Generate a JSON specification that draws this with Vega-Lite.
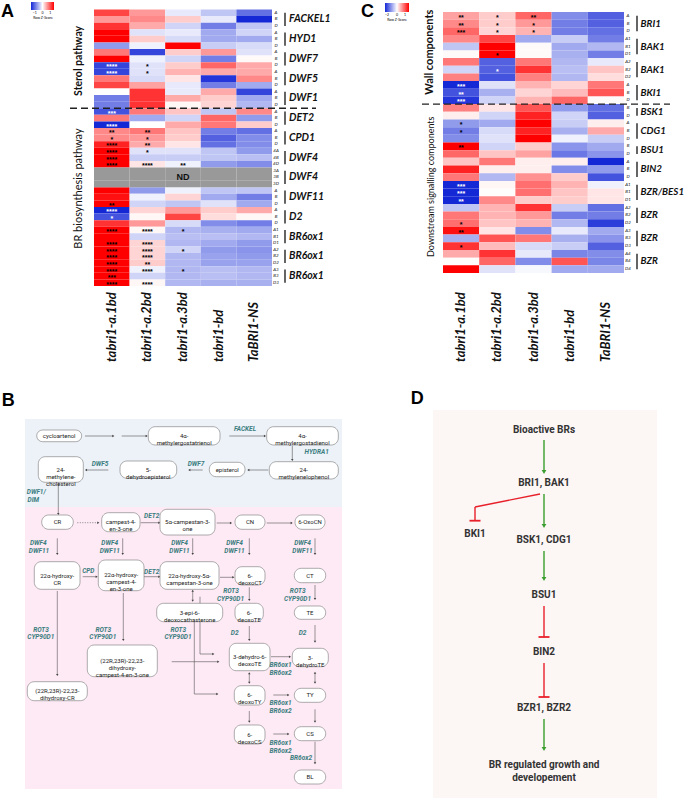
{
"$schema": "https://vega.github.io/schema/vega-lite/v6.json",
"width": 685, "height": 800, "padding": 0, "autosize": {"type": "none"},
"background": "white",
"config": {"view": {"stroke": null}, "axis": {"disable": true}, "text": {"font": "Lato"}},
"datasets": {
"samples": [{"sample":"tabri1-a.1bd"},{"sample":"tabri1-a.2bd"},{"sample":"tabri1-a.3bd"},{"sample":"tabri1-bd"},{"sample":"TaBRI1-NS"}],
"cellsA": [
{"row":1,"sample":"tabri1-a.1bd","z":1.1},{"row":1,"sample":"tabri1-a.2bd","z":0.6},{"row":1,"sample":"tabri1-a.3bd","z":-0.15},{"row":1,"sample":"tabri1-bd","z":-0.4},{"row":1,"sample":"TaBRI1-NS","z":-1.0},
{"row":2,"sample":"tabri1-a.1bd","z":0.6},{"row":2,"sample":"tabri1-a.2bd","z":0.7},{"row":2,"sample":"tabri1-a.3bd","z":0.3},{"row":2,"sample":"tabri1-bd","z":-0.15},{"row":2,"sample":"TaBRI1-NS","z":-1.5},
{"row":3,"sample":"tabri1-a.1bd","z":1.2},{"row":3,"sample":"tabri1-a.2bd","z":0.5},{"row":3,"sample":"tabri1-a.3bd","z":-0.3},{"row":3,"sample":"tabri1-bd","z":-0.9},{"row":3,"sample":"TaBRI1-NS","z":-0.4},
{"row":4,"sample":"tabri1-a.1bd","z":1.5},{"row":4,"sample":"tabri1-a.2bd","z":-0.2},{"row":4,"sample":"tabri1-a.3bd","z":-0.15},{"row":4,"sample":"tabri1-bd","z":-0.6},{"row":4,"sample":"TaBRI1-NS","z":-0.3},
{"row":5,"sample":"tabri1-a.1bd","z":1.5},{"row":5,"sample":"tabri1-a.2bd","z":0.3},{"row":5,"sample":"tabri1-a.3bd","z":-0.25},{"row":5,"sample":"tabri1-bd","z":-0.6},{"row":5,"sample":"TaBRI1-NS","z":-0.6},
{"row":6,"sample":"tabri1-a.1bd","z":-0.7},{"row":6,"sample":"tabri1-a.2bd","z":-0.1},{"row":6,"sample":"tabri1-a.3bd","z":1.5},{"row":6,"sample":"tabri1-bd","z":-0.35},{"row":6,"sample":"TaBRI1-NS","z":-0.25},
{"row":7,"sample":"tabri1-a.1bd","z":0.8},{"row":7,"sample":"tabri1-a.2bd","z":-1.3},{"row":7,"sample":"tabri1-a.3bd","z":0.3},{"row":7,"sample":"tabri1-bd","z":0.6},{"row":7,"sample":"TaBRI1-NS","z":-0.2},
{"row":8,"sample":"tabri1-a.1bd","z":1.5},{"row":8,"sample":"tabri1-a.2bd","z":-0.1},{"row":8,"sample":"tabri1-a.3bd","z":-0.3},{"row":8,"sample":"tabri1-bd","z":-0.9},{"row":8,"sample":"TaBRI1-NS","z":0.03},
{"row":9,"sample":"tabri1-a.1bd","z":-1.3,"sig":"****"},{"row":9,"sample":"tabri1-a.2bd","z":-0.2,"sig":"*"},{"row":9,"sample":"tabri1-a.3bd","z":0.3},{"row":9,"sample":"tabri1-bd","z":0.9},{"row":9,"sample":"TaBRI1-NS","z":0.5},
{"row":10,"sample":"tabri1-a.1bd","z":-1.3,"sig":"****"},{"row":10,"sample":"tabri1-a.2bd","z":-0.2,"sig":"*"},{"row":10,"sample":"tabri1-a.3bd","z":0.45},{"row":10,"sample":"tabri1-bd","z":0.5},{"row":10,"sample":"TaBRI1-NS","z":0.5},
{"row":11,"sample":"tabri1-a.1bd","z":0.8},{"row":11,"sample":"tabri1-a.2bd","z":-0.25},{"row":11,"sample":"tabri1-a.3bd","z":0.15},{"row":11,"sample":"tabri1-bd","z":-1.4},{"row":11,"sample":"TaBRI1-NS","z":0.7},
{"row":12,"sample":"tabri1-a.1bd","z":1.1},{"row":12,"sample":"tabri1-a.2bd","z":0.55},{"row":12,"sample":"tabri1-a.3bd","z":-0.15},{"row":12,"sample":"tabri1-bd","z":-0.9},{"row":12,"sample":"TaBRI1-NS","z":-0.6},
{"row":13,"sample":"tabri1-a.1bd","z":0},{"row":13,"sample":"tabri1-a.2bd","z":1.2},{"row":13,"sample":"tabri1-a.3bd","z":-0.15},{"row":13,"sample":"tabri1-bd","z":0.5},{"row":13,"sample":"TaBRI1-NS","z":-1.3},
{"row":14,"sample":"tabri1-a.1bd","z":-0.9},{"row":14,"sample":"tabri1-a.2bd","z":1.2},{"row":14,"sample":"tabri1-a.3bd","z":0.5},{"row":14,"sample":"tabri1-bd","z":0.3},{"row":14,"sample":"TaBRI1-NS","z":-0.6},
{"row":15,"sample":"tabri1-a.1bd","z":-0.9},{"row":15,"sample":"tabri1-a.2bd","z":1.2},{"row":15,"sample":"tabri1-a.3bd","z":0.05},{"row":15,"sample":"tabri1-bd","z":0.25},{"row":15,"sample":"TaBRI1-NS","z":-0.5},
{"row":16,"sample":"tabri1-a.1bd","z":-1.2,"sig":"***"},{"row":16,"sample":"tabri1-a.2bd","z":0.8},{"row":16,"sample":"tabri1-a.3bd","z":0.35},{"row":16,"sample":"tabri1-bd","z":-0.4},{"row":16,"sample":"TaBRI1-NS","z":0.7},
{"row":17,"sample":"tabri1-a.1bd","z":0.8},{"row":17,"sample":"tabri1-a.2bd","z":-0.6},{"row":17,"sample":"tabri1-a.3bd","z":-0.3},{"row":17,"sample":"tabri1-bd","z":0.9},{"row":17,"sample":"TaBRI1-NS","z":-0.7},
{"row":18,"sample":"tabri1-a.1bd","z":-1.5,"sig":"****"},{"row":18,"sample":"tabri1-a.2bd","z":0},{"row":18,"sample":"tabri1-a.3bd","z":0.5},{"row":18,"sample":"tabri1-bd","z":0.8},{"row":18,"sample":"TaBRI1-NS","z":0.3},
{"row":19,"sample":"tabri1-a.1bd","z":0.7,"sig":"**"},{"row":19,"sample":"tabri1-a.2bd","z":0.8,"sig":"**"},{"row":19,"sample":"tabri1-a.3bd","z":0.35},{"row":19,"sample":"tabri1-bd","z":-0.9},{"row":19,"sample":"TaBRI1-NS","z":-1.0},
{"row":20,"sample":"tabri1-a.1bd","z":0.7,"sig":"*"},{"row":20,"sample":"tabri1-a.2bd","z":0.6,"sig":"*"},{"row":20,"sample":"tabri1-a.3bd","z":0.3},{"row":20,"sample":"tabri1-bd","z":-1.1},{"row":20,"sample":"TaBRI1-NS","z":-0.8},
{"row":21,"sample":"tabri1-a.1bd","z":1.3,"sig":"****"},{"row":21,"sample":"tabri1-a.2bd","z":0.5,"sig":"**"},{"row":21,"sample":"tabri1-a.3bd","z":0.15},{"row":21,"sample":"tabri1-bd","z":-1.0},{"row":21,"sample":"TaBRI1-NS","z":-0.8},
{"row":22,"sample":"tabri1-a.1bd","z":1.5,"sig":"****"},{"row":22,"sample":"tabri1-a.2bd","z":-0.2,"sig":"*"},{"row":22,"sample":"tabri1-a.3bd","z":-0.2},{"row":22,"sample":"tabri1-bd","z":-0.4},{"row":22,"sample":"TaBRI1-NS","z":-0.7},
{"row":23,"sample":"tabri1-a.1bd","z":1.5,"sig":"****"},{"row":23,"sample":"tabri1-a.2bd","z":-0.35},{"row":23,"sample":"tabri1-a.3bd","z":-0.35},{"row":23,"sample":"tabri1-bd","z":-0.4},{"row":23,"sample":"TaBRI1-NS","z":-0.45},
{"row":24,"sample":"tabri1-a.1bd","z":1.5,"sig":"****"},{"row":24,"sample":"tabri1-a.2bd","z":0.15,"sig":"****"},{"row":24,"sample":"tabri1-a.3bd","z":-0.1,"sig":"**"},{"row":24,"sample":"tabri1-bd","z":-0.7},{"row":24,"sample":"TaBRI1-NS","z":-0.8},
{"row":25,"sample":"tabri1-a.1bd","z":null},{"row":25,"sample":"tabri1-a.2bd","z":null},{"row":25,"sample":"tabri1-a.3bd","z":null},{"row":25,"sample":"tabri1-bd","z":null},{"row":25,"sample":"TaBRI1-NS","z":null},
{"row":26,"sample":"tabri1-a.1bd","z":null},{"row":26,"sample":"tabri1-a.2bd","z":null},{"row":26,"sample":"tabri1-a.3bd","z":null},{"row":26,"sample":"tabri1-bd","z":null},{"row":26,"sample":"TaBRI1-NS","z":null},
{"row":27,"sample":"tabri1-a.1bd","z":null},{"row":27,"sample":"tabri1-a.2bd","z":null},{"row":27,"sample":"tabri1-a.3bd","z":null},{"row":27,"sample":"tabri1-bd","z":null},{"row":27,"sample":"TaBRI1-NS","z":null},
{"row":28,"sample":"tabri1-a.1bd","z":1.5},{"row":28,"sample":"tabri1-a.2bd","z":-0.7},{"row":28,"sample":"tabri1-a.3bd","z":-0.1},{"row":28,"sample":"tabri1-bd","z":-0.4},{"row":28,"sample":"TaBRI1-NS","z":-0.4},
{"row":29,"sample":"tabri1-a.1bd","z":1.4},{"row":29,"sample":"tabri1-a.2bd","z":-0.1},{"row":29,"sample":"tabri1-a.3bd","z":0.25},{"row":29,"sample":"tabri1-bd","z":-0.6},{"row":29,"sample":"TaBRI1-NS","z":-0.9},
{"row":30,"sample":"tabri1-a.1bd","z":1.5,"sig":"**"},{"row":30,"sample":"tabri1-a.2bd","z":-0.3},{"row":30,"sample":"tabri1-a.3bd","z":-0.4},{"row":30,"sample":"tabri1-bd","z":-0.2},{"row":30,"sample":"TaBRI1-NS","z":-0.6},
{"row":31,"sample":"tabri1-a.1bd","z":-1.5,"sig":"****"},{"row":31,"sample":"tabri1-a.2bd","z":0.25},{"row":31,"sample":"tabri1-a.3bd","z":0.6},{"row":31,"sample":"tabri1-bd","z":0.3},{"row":31,"sample":"TaBRI1-NS","z":0.5},
{"row":32,"sample":"tabri1-a.1bd","z":-1.2,"sig":"*"},{"row":32,"sample":"tabri1-a.2bd","z":0.05},{"row":32,"sample":"tabri1-a.3bd","z":1.1},{"row":32,"sample":"tabri1-bd","z":0.2},{"row":32,"sample":"TaBRI1-NS","z":0.05},
{"row":33,"sample":"tabri1-a.1bd","z":1.2},{"row":33,"sample":"tabri1-a.2bd","z":0.6},{"row":33,"sample":"tabri1-a.3bd","z":-0.25},{"row":33,"sample":"tabri1-bd","z":-0.8},{"row":33,"sample":"TaBRI1-NS","z":-0.9},
{"row":34,"sample":"tabri1-a.1bd","z":1.5,"sig":"****"},{"row":34,"sample":"tabri1-a.2bd","z":0.05,"sig":"****"},{"row":34,"sample":"tabri1-a.3bd","z":-0.5,"sig":"*"},{"row":34,"sample":"tabri1-bd","z":-0.55},{"row":34,"sample":"TaBRI1-NS","z":-0.6},
{"row":35,"sample":"tabri1-a.1bd","z":1.5},{"row":35,"sample":"tabri1-a.2bd","z":-0.3},{"row":35,"sample":"tabri1-a.3bd","z":-0.45},{"row":35,"sample":"tabri1-bd","z":-0.45},{"row":35,"sample":"TaBRI1-NS","z":-0.5},
{"row":36,"sample":"tabri1-a.1bd","z":1.5,"sig":"****"},{"row":36,"sample":"tabri1-a.2bd","z":0.25,"sig":"****"},{"row":36,"sample":"tabri1-a.3bd","z":-0.5},{"row":36,"sample":"tabri1-bd","z":-0.6},{"row":36,"sample":"TaBRI1-NS","z":-0.7},
{"row":37,"sample":"tabri1-a.1bd","z":1.5,"sig":"****"},{"row":37,"sample":"tabri1-a.2bd","z":0.25,"sig":"****"},{"row":37,"sample":"tabri1-a.3bd","z":-0.3,"sig":"*"},{"row":37,"sample":"tabri1-bd","z":-0.7},{"row":37,"sample":"TaBRI1-NS","z":-0.75},
{"row":38,"sample":"tabri1-a.1bd","z":1.5,"sig":"****"},{"row":38,"sample":"tabri1-a.2bd","z":0.25,"sig":"****"},{"row":38,"sample":"tabri1-a.3bd","z":-0.5},{"row":38,"sample":"tabri1-bd","z":-0.65},{"row":38,"sample":"TaBRI1-NS","z":-0.7},
{"row":39,"sample":"tabri1-a.1bd","z":1.5,"sig":"****"},{"row":39,"sample":"tabri1-a.2bd","z":0.3,"sig":"**"},{"row":39,"sample":"tabri1-a.3bd","z":-0.5},{"row":39,"sample":"tabri1-bd","z":-0.65},{"row":39,"sample":"TaBRI1-NS","z":-0.65},
{"row":40,"sample":"tabri1-a.1bd","z":1.5,"sig":"****"},{"row":40,"sample":"tabri1-a.2bd","z":-0.1,"sig":"****"},{"row":40,"sample":"tabri1-a.3bd","z":-0.5,"sig":"*"},{"row":40,"sample":"tabri1-bd","z":-0.45},{"row":40,"sample":"TaBRI1-NS","z":-0.5},
{"row":41,"sample":"tabri1-a.1bd","z":1.5,"sig":"***"},{"row":41,"sample":"tabri1-a.2bd","z":-0.3},{"row":41,"sample":"tabri1-a.3bd","z":-0.5},{"row":41,"sample":"tabri1-bd","z":-0.45},{"row":41,"sample":"TaBRI1-NS","z":-0.5},
{"row":42,"sample":"tabri1-a.1bd","z":1.5,"sig":"****"},{"row":42,"sample":"tabri1-a.2bd","z":0.05,"sig":"****"},{"row":42,"sample":"tabri1-a.3bd","z":-0.5},{"row":42,"sample":"tabri1-bd","z":-0.55},{"row":42,"sample":"TaBRI1-NS","z":-0.55}
],
"rowsA": [
{"row":1,"allele":"A"},{"row":2,"allele":"B"},{"row":3,"allele":"D"},{"row":4,"allele":"A"},{"row":5,"allele":"B"},{"row":6,"allele":"D"},
{"row":7,"allele":"A"},{"row":8,"allele":"B"},{"row":9,"allele":"D"},{"row":10,"allele":"A"},{"row":11,"allele":"B"},{"row":12,"allele":"D"},
{"row":13,"allele":"A"},{"row":14,"allele":"B"},{"row":15,"allele":"D"},{"row":16,"allele":"A"},{"row":17,"allele":"B"},{"row":18,"allele":"D"},
{"row":19,"allele":"A"},{"row":20,"allele":"B"},{"row":21,"allele":"D"},{"row":22,"allele":"4A"},{"row":23,"allele":"4B"},{"row":24,"allele":"4D"},
{"row":25,"allele":"3A"},{"row":26,"allele":"3B"},{"row":27,"allele":"3D"},{"row":28,"allele":"A"},{"row":29,"allele":"B"},{"row":30,"allele":"D"},
{"row":31,"allele":"A"},{"row":32,"allele":"B"},{"row":33,"allele":"D"},{"row":34,"allele":"A1"},{"row":35,"allele":"B1"},{"row":36,"allele":"D1"},
{"row":37,"allele":"A2"},{"row":38,"allele":"B2"},{"row":39,"allele":"D2"},{"row":40,"allele":"A3"},{"row":41,"allele":"B3"},{"row":42,"allele":"D3"}
],
"groupsA": [
{"gene":"FACKEL1","first":1,"last":3,"mid":2},{"gene":"HYD1","first":4,"last":6,"mid":5},{"gene":"DWF7","first":7,"last":9,"mid":8},
{"gene":"DWF5","first":10,"last":12,"mid":11},{"gene":"DWF1","first":13,"last":15,"mid":14},{"gene":"DET2","first":16,"last":18,"mid":17},
{"gene":"CPD1","first":19,"last":21,"mid":20},{"gene":"DWF4","first":22,"last":24,"mid":23},{"gene":"DWF4","first":25,"last":27,"mid":26},
{"gene":"DWF11","first":28,"last":30,"mid":29},{"gene":"D2","first":31,"last":33,"mid":32},{"gene":"BR6ox1","first":34,"last":36,"mid":35},
{"gene":"BR6ox1","first":37,"last":39,"mid":38},{"gene":"BR6ox1","first":40,"last":42,"mid":41}
],
"cellsC": [
{"row":1,"sample":"tabri1-a.1bd","z":0.55,"sig":"**"},{"row":1,"sample":"tabri1-a.2bd","z":0.3,"sig":"*"},{"row":1,"sample":"tabri1-a.3bd","z":0.9,"sig":"**"},{"row":1,"sample":"tabri1-bd","z":-0.8},{"row":1,"sample":"TaBRI1-NS","z":-1.1},
{"row":2,"sample":"tabri1-a.1bd","z":0.7,"sig":"**"},{"row":2,"sample":"tabri1-a.2bd","z":0.3,"sig":"*"},{"row":2,"sample":"tabri1-a.3bd","z":0.6,"sig":"*"},{"row":2,"sample":"tabri1-bd","z":-0.9},{"row":2,"sample":"TaBRI1-NS","z":-1.1},
{"row":3,"sample":"tabri1-a.1bd","z":0.9,"sig":"***"},{"row":3,"sample":"tabri1-a.2bd","z":0.25,"sig":"*"},{"row":3,"sample":"tabri1-a.3bd","z":0.45,"sig":"*"},{"row":3,"sample":"tabri1-bd","z":-0.9},{"row":3,"sample":"TaBRI1-NS","z":-1.0},
{"row":4,"sample":"tabri1-a.1bd","z":0.7},{"row":4,"sample":"tabri1-a.2bd","z":1.1},{"row":4,"sample":"tabri1-a.3bd","z":-0.6},{"row":4,"sample":"tabri1-bd","z":-0.35},{"row":4,"sample":"TaBRI1-NS","z":-0.9},
{"row":5,"sample":"tabri1-a.1bd","z":-0.4},{"row":5,"sample":"tabri1-a.2bd","z":1.5},{"row":5,"sample":"tabri1-a.3bd","z":0.03},{"row":5,"sample":"tabri1-bd","z":-0.6},{"row":5,"sample":"TaBRI1-NS","z":-0.5},
{"row":6,"sample":"tabri1-a.1bd","z":0.03},{"row":6,"sample":"tabri1-a.2bd","z":1.5,"sig":"*"},{"row":6,"sample":"tabri1-a.3bd","z":0.03},{"row":6,"sample":"tabri1-bd","z":-0.55},{"row":6,"sample":"TaBRI1-NS","z":-0.9},
{"row":7,"sample":"tabri1-a.1bd","z":0.8},{"row":7,"sample":"tabri1-a.2bd","z":-1.1},{"row":7,"sample":"tabri1-a.3bd","z":0.8},{"row":7,"sample":"tabri1-bd","z":-0.5},{"row":7,"sample":"TaBRI1-NS","z":-0.15},
{"row":8,"sample":"tabri1-a.1bd","z":-0.3},{"row":8,"sample":"tabri1-a.2bd","z":-1.1,"sig":"*"},{"row":8,"sample":"tabri1-a.3bd","z":1.2},{"row":8,"sample":"tabri1-bd","z":-0.45},{"row":8,"sample":"TaBRI1-NS","z":0.35},
{"row":9,"sample":"tabri1-a.1bd","z":0.75},{"row":9,"sample":"tabri1-a.2bd","z":-1.2},{"row":9,"sample":"tabri1-a.3bd","z":0.75},{"row":9,"sample":"tabri1-bd","z":-0.5},{"row":9,"sample":"TaBRI1-NS","z":0.2},
{"row":10,"sample":"tabri1-a.1bd","z":-1.5,"sig":"***"},{"row":10,"sample":"tabri1-a.2bd","z":-0.2},{"row":10,"sample":"tabri1-a.3bd","z":0.45},{"row":10,"sample":"tabri1-bd","z":0.25},{"row":10,"sample":"TaBRI1-NS","z":0.8},
{"row":11,"sample":"tabri1-a.1bd","z":-1.2,"sig":"**"},{"row":11,"sample":"tabri1-a.2bd","z":-0.55},{"row":11,"sample":"tabri1-a.3bd","z":0.25},{"row":11,"sample":"tabri1-bd","z":0.4},{"row":11,"sample":"TaBRI1-NS","z":1.0},
{"row":12,"sample":"tabri1-a.1bd","z":-1.4,"sig":"***"},{"row":12,"sample":"tabri1-a.2bd","z":-0.3},{"row":12,"sample":"tabri1-a.3bd","z":0.45},{"row":12,"sample":"tabri1-bd","z":0.9},{"row":12,"sample":"TaBRI1-NS","z":0.03},
{"row":13,"sample":"tabri1-a.1bd","z":0.75},{"row":13,"sample":"tabri1-a.2bd","z":0.15},{"row":13,"sample":"tabri1-a.3bd","z":1.0},{"row":13,"sample":"tabri1-bd","z":-0.7},{"row":13,"sample":"TaBRI1-NS","z":-1.0},
{"row":14,"sample":"tabri1-a.1bd","z":0.1},{"row":14,"sample":"tabri1-a.2bd","z":-0.3},{"row":14,"sample":"tabri1-a.3bd","z":1.3},{"row":14,"sample":"tabri1-bd","z":-0.3},{"row":14,"sample":"TaBRI1-NS","z":-1.1},
{"row":15,"sample":"tabri1-a.1bd","z":-0.7,"sig":"*"},{"row":15,"sample":"tabri1-a.2bd","z":-0.6},{"row":15,"sample":"tabri1-a.3bd","z":1.5},{"row":15,"sample":"tabri1-bd","z":-0.35},{"row":15,"sample":"TaBRI1-NS","z":0.1},
{"row":16,"sample":"tabri1-a.1bd","z":-0.9,"sig":"*"},{"row":16,"sample":"tabri1-a.2bd","z":-0.25},{"row":16,"sample":"tabri1-a.3bd","z":1.3},{"row":16,"sample":"tabri1-bd","z":-0.55},{"row":16,"sample":"TaBRI1-NS","z":0.5},
{"row":17,"sample":"tabri1-a.1bd","z":-0.8},{"row":17,"sample":"tabri1-a.2bd","z":-0.2},{"row":17,"sample":"tabri1-a.3bd","z":1.5},{"row":17,"sample":"tabri1-bd","z":-0.1},{"row":17,"sample":"TaBRI1-NS","z":-0.35},
{"row":18,"sample":"tabri1-a.1bd","z":1.5,"sig":"**"},{"row":18,"sample":"tabri1-a.2bd","z":-0.3},{"row":18,"sample":"tabri1-a.3bd","z":0.3},{"row":18,"sample":"tabri1-bd","z":-0.75},{"row":18,"sample":"TaBRI1-NS","z":-0.6},
{"row":19,"sample":"tabri1-a.1bd","z":0.9},{"row":19,"sample":"tabri1-a.2bd","z":0.35},{"row":19,"sample":"tabri1-a.3bd","z":0.55},{"row":19,"sample":"tabri1-bd","z":-0.95},{"row":19,"sample":"TaBRI1-NS","z":-0.75},
{"row":20,"sample":"tabri1-a.1bd","z":0.35},{"row":20,"sample":"tabri1-a.2bd","z":0.8},{"row":20,"sample":"tabri1-a.3bd","z":0.1},{"row":20,"sample":"tabri1-bd","z":0.1},{"row":20,"sample":"TaBRI1-NS","z":-1.5},
{"row":21,"sample":"tabri1-a.1bd","z":1.3},{"row":21,"sample":"tabri1-a.2bd","z":0.1},{"row":21,"sample":"tabri1-a.3bd","z":0.1},{"row":21,"sample":"tabri1-bd","z":-0.8},{"row":21,"sample":"TaBRI1-NS","z":-0.7},
{"row":22,"sample":"tabri1-a.1bd","z":0.8},{"row":22,"sample":"tabri1-a.2bd","z":-0.5},{"row":22,"sample":"tabri1-a.3bd","z":0.65},{"row":22,"sample":"tabri1-bd","z":0.3},{"row":22,"sample":"TaBRI1-NS","z":-1.2},
{"row":23,"sample":"tabri1-a.1bd","z":-1.5,"sig":"***"},{"row":23,"sample":"tabri1-a.2bd","z":0.05},{"row":23,"sample":"tabri1-a.3bd","z":0.85},{"row":23,"sample":"tabri1-bd","z":0.45},{"row":23,"sample":"TaBRI1-NS","z":-0.1},
{"row":24,"sample":"tabri1-a.1bd","z":-1.5,"sig":"***"},{"row":24,"sample":"tabri1-a.2bd","z":0.02},{"row":24,"sample":"tabri1-a.3bd","z":0.85},{"row":24,"sample":"tabri1-bd","z":0.35},{"row":24,"sample":"TaBRI1-NS","z":0.15},
{"row":25,"sample":"tabri1-a.1bd","z":-1.5,"sig":"**"},{"row":25,"sample":"tabri1-a.2bd","z":0.7},{"row":25,"sample":"tabri1-a.3bd","z":0.3},{"row":25,"sample":"tabri1-bd","z":0.3},{"row":25,"sample":"TaBRI1-NS","z":0.15},
{"row":26,"sample":"tabri1-a.1bd","z":-0.4},{"row":26,"sample":"tabri1-a.2bd","z":0.45},{"row":26,"sample":"tabri1-a.3bd","z":1.2},{"row":26,"sample":"tabri1-bd","z":-0.35},{"row":26,"sample":"TaBRI1-NS","z":-1.0},
{"row":27,"sample":"tabri1-a.1bd","z":0.8},{"row":27,"sample":"tabri1-a.2bd","z":0.45},{"row":27,"sample":"tabri1-a.3bd","z":0.6},{"row":27,"sample":"tabri1-bd","z":-0.9},{"row":27,"sample":"TaBRI1-NS","z":-0.9},
{"row":28,"sample":"tabri1-a.1bd","z":0.85,"sig":"*"},{"row":28,"sample":"tabri1-a.2bd","z":0.35},{"row":28,"sample":"tabri1-a.3bd","z":0.45},{"row":28,"sample":"tabri1-bd","z":-0.5},{"row":28,"sample":"TaBRI1-NS","z":-1.35},
{"row":29,"sample":"tabri1-a.1bd","z":1.4,"sig":"**"},{"row":29,"sample":"tabri1-a.2bd","z":0.15},{"row":29,"sample":"tabri1-a.3bd","z":-0.8},{"row":29,"sample":"tabri1-bd","z":-0.15},{"row":29,"sample":"TaBRI1-NS","z":-0.6},
{"row":30,"sample":"tabri1-a.1bd","z":-0.55},{"row":30,"sample":"tabri1-a.2bd","z":1.0},{"row":30,"sample":"tabri1-a.3bd","z":0.8},{"row":30,"sample":"tabri1-bd","z":-0.55},{"row":30,"sample":"TaBRI1-NS","z":-0.75},
{"row":31,"sample":"tabri1-a.1bd","z":1.2,"sig":"*"},{"row":31,"sample":"tabri1-a.2bd","z":0.4},{"row":31,"sample":"tabri1-a.3bd","z":-0.25},{"row":31,"sample":"tabri1-bd","z":-0.35},{"row":31,"sample":"TaBRI1-NS","z":-1.1},
{"row":32,"sample":"tabri1-a.1bd","z":0.5},{"row":32,"sample":"tabri1-a.2bd","z":1.2},{"row":32,"sample":"tabri1-a.3bd","z":-0.15},{"row":32,"sample":"tabri1-bd","z":-0.85},{"row":32,"sample":"TaBRI1-NS","z":-0.8},
{"row":33,"sample":"tabri1-a.1bd","z":0.02},{"row":33,"sample":"tabri1-a.2bd","z":0.9},{"row":33,"sample":"tabri1-a.3bd","z":-0.8},{"row":33,"sample":"tabri1-bd","z":1.0},{"row":33,"sample":"TaBRI1-NS","z":-0.85},
{"row":34,"sample":"tabri1-a.1bd","z":1.5},{"row":34,"sample":"tabri1-a.2bd","z":-0.2},{"row":34,"sample":"tabri1-a.3bd","z":-0.05},{"row":34,"sample":"tabri1-bd","z":-0.6},{"row":34,"sample":"TaBRI1-NS","z":-0.6}
],
"rowsC": [
{"row":1,"allele":"A"},{"row":2,"allele":"B"},{"row":3,"allele":"D"},{"row":4,"allele":"A1"},{"row":5,"allele":"B1"},{"row":6,"allele":"D1"},
{"row":7,"allele":"A2"},{"row":8,"allele":"B2"},{"row":9,"allele":"D2"},{"row":10,"allele":"A"},{"row":11,"allele":"B"},{"row":12,"allele":"D"},
{"row":13,"allele":"B"},{"row":14,"allele":"D"},{"row":15,"allele":"A"},{"row":16,"allele":"B"},{"row":17,"allele":"D"},{"row":18,"allele":"B"},
{"row":19,"allele":"D"},{"row":20,"allele":"A"},{"row":21,"allele":"B"},{"row":22,"allele":"D"},{"row":23,"allele":"A1"},{"row":24,"allele":"B1"},
{"row":25,"allele":"D1"},{"row":26,"allele":"A2"},{"row":27,"allele":"B2"},{"row":28,"allele":"D2"},{"row":29,"allele":"A3"},{"row":30,"allele":"B3"},
{"row":31,"allele":"D3"},{"row":32,"allele":"A4"},{"row":33,"allele":"B4"},{"row":34,"allele":"D4"}
],
"groupsC": [
{"gene":"BRI1","first":1,"last":3,"mid":2,"n":3},{"gene":"BAK1","first":4,"last":6,"mid":5,"n":3},{"gene":"BAK1","first":7,"last":9,"mid":8,"n":3},
{"gene":"BKI1","first":10,"last":12,"mid":11,"n":3},{"gene":"BSK1","first":13,"last":14,"mid":13,"n":2},{"gene":"CDG1","first":15,"last":17,"mid":16,"n":3},
{"gene":"BSU1","first":18,"last":19,"mid":18,"n":2},{"gene":"BIN2","first":20,"last":22,"mid":21,"n":3},{"gene":"BZR/BES1","first":23,"last":25,"mid":24,"n":3},
{"gene":"BZR","first":26,"last":28,"mid":27,"n":3},{"gene":"BZR","first":29,"last":31,"mid":30,"n":3},{"gene":"BZR","first":32,"last":34,"mid":33,"n":3}
],
"bBg": [{"region":"sterol","x1":0,"x2":317,"y1":0,"y2":88},{"region":"br","x1":0,"x2":317,"y1":88,"y2":370}],
"bNodes": [
{"label":"cycloartenol","x1":11.7,"x2":56.7,"y1":11,"y2":22.7,"cx":34.2,"cy":16.8},
{"label":"4α-\nmethylergostatrienol","x1":123.3,"x2":195,"y1":7.7,"y2":26,"cx":159.2,"cy":16.8},
{"label":"4α-\nmethylergostadienol","x1":241.7,"x2":313.3,"y1":7.7,"y2":26,"cx":277.5,"cy":16.8},
{"label":"24-\nmethylenelophenol","x1":244.3,"x2":313.3,"y1":42.7,"y2":60,"cx":278.8,"cy":51.3},
{"label":"episterol","x1":184.3,"x2":220,"y1":43.3,"y2":57.7,"cx":202.2,"cy":50.5},
{"label":"5-\ndehydroepisterol","x1":95,"x2":151.7,"y1":42,"y2":59.3,"cx":123.3,"cy":50.7},
{"label":"24-\nmethylene-\ncholesterol","x1":13.3,"x2":58.3,"y1":37.7,"y2":63.3,"cx":35.8,"cy":50.5},
{"label":"CR","x1":16.7,"x2":48.3,"y1":96,"y2":110.3,"cx":32.5,"cy":103.2},
{"label":"campest-4-\nen-3-one","x1":76.7,"x2":115,"y1":93.7,"y2":112.7,"cx":95.8,"cy":103.2},
{"label":"5α-campestan-3-\none","x1":135,"x2":190,"y1":90.3,"y2":116,"cx":162.5,"cy":103.2},
{"label":"CN","x1":210,"x2":240,"y1":96,"y2":110.3,"cx":225,"cy":103.2},
{"label":"6-OxoCN","x1":270,"x2":300,"y1":96,"y2":110.3,"cx":285,"cy":103.2},
{"label":"22α-hydroxy-\nCR","x1":9.3,"x2":55,"y1":142.7,"y2":170.3,"cx":32.2,"cy":156.5},
{"label":"22α-hydroxy-\ncampest-4-\nen-3-one","x1":73.3,"x2":119,"y1":141,"y2":171.7,"cx":96.2,"cy":156.3},
{"label":"22α-hydroxy-5α-\ncampestan-3-one","x1":135,"x2":194,"y1":142.7,"y2":170.3,"cx":164.5,"cy":156.5},
{"label":"6-\ndeoxoCT","x1":210,"x2":240,"y1":147.7,"y2":166,"cx":225,"cy":156.8},
{"label":"CT","x1":269.3,"x2":300.7,"y1":149.3,"y2":163.7,"cx":285,"cy":156.5},
{"label":"3-epi-6-\ndeoxocathasterone","x1":131.7,"x2":197.7,"y1":184.3,"y2":202.7,"cx":164.7,"cy":193.5},
{"label":"6-\ndeoxoTE","x1":210,"x2":238.3,"y1":184.3,"y2":202.7,"cx":224.2,"cy":193.5},
{"label":"TE","x1":269.3,"x2":300.7,"y1":187,"y2":200.3,"cx":285,"cy":193.7},
{"label":"(22R,23R)-22,23-\ndihydroxy-\ncampest-4-en-3-one","x1":62.3,"x2":132.3,"y1":226,"y2":257.7,"cx":97.3,"cy":241.8},
{"label":"(22R,23R)-22,23-\ndihydroxy-CR","x1":2.3,"x2":62.3,"y1":262.7,"y2":281.7,"cx":32.3,"cy":272.2},
{"label":"3-dehydro-6-\ndeoxoTE","x1":204.3,"x2":245,"y1":224.3,"y2":251.7,"cx":224.7,"cy":238},
{"label":"3-\ndehydroTE","x1":267.3,"x2":303.3,"y1":229.3,"y2":247.7,"cx":285.3,"cy":238.5},
{"label":"6-\ndeoxoTY","x1":209.3,"x2":240,"y1":266.7,"y2":286,"cx":224.7,"cy":276.3},
{"label":"TY","x1":269.3,"x2":300.7,"y1":269.3,"y2":283.3,"cx":285,"cy":276.3},
{"label":"6-\ndeoxoCS","x1":209.3,"x2":240,"y1":306,"y2":325,"cx":224.7,"cy":315.5},
{"label":"CS","x1":269.3,"x2":300.7,"y1":307.7,"y2":321.7,"cx":285,"cy":314.7},
{"label":"BL","x1":269.3,"x2":300.7,"y1":351,"y2":365,"cx":285,"cy":358}
],
"bEdges": [
{"x1":60,"y1":17,"x2":88.3,"y2":17,"dir":"right","style":"solid"},
{"x1":96.7,"y1":17,"x2":121.7,"y2":17,"dir":"right","style":"solid"},
{"x1":204.3,"y1":17,"x2":240,"y2":17,"dir":"right","style":"solid"},
{"x1":267.3,"y1":26.7,"x2":267.3,"y2":41,"dir":"down","style":"solid"},
{"x1":243.3,"y1":51,"x2":223.3,"y2":51,"dir":"left","style":"solid"},
{"x1":177.7,"y1":51,"x2":164.3,"y2":51,"dir":"left","style":"solid"},
{"x1":83.3,"y1":51,"x2":61,"y2":51,"dir":"left","style":"solid"},
{"x1":33.3,"y1":63.3,"x2":33.3,"y2":95,"dir":"down","style":"solid"},
{"x1":52.3,"y1":103.7,"x2":73.3,"y2":103.7,"dir":"right","style":"dotted"},
{"x1":115.7,"y1":103.7,"x2":134.3,"y2":103.7,"dir":"right","style":"solid"},
{"x1":191.7,"y1":104,"x2":206,"y2":104,"dir":"right","style":"solid"},
{"x1":241.7,"y1":104,"x2":266.7,"y2":104,"dir":"right","style":"solid"},
{"x1":32.3,"y1":119.3,"x2":32.3,"y2":135,"dir":"down","style":"solid"},
{"x1":97.7,"y1":119.3,"x2":97.7,"y2":135,"dir":"down","style":"solid"},
{"x1":167.7,"y1":119.3,"x2":167.7,"y2":135,"dir":"down","style":"solid"},
{"x1":224.3,"y1":119.3,"x2":224.3,"y2":135,"dir":"down","style":"solid"},
{"x1":290,"y1":119.3,"x2":290,"y2":135,"dir":"down","style":"solid"},
{"x1":57.7,"y1":157.7,"x2":71.7,"y2":157.7,"dir":"right","style":"solid"},
{"x1":119,"y1":157.7,"x2":134.3,"y2":157.7,"dir":"right","style":"solid"},
{"x1":195,"y1":158.3,"x2":208.3,"y2":158.3,"dir":"right","style":"solid"},
{"x1":167.7,"y1":176.7,"x2":167.7,"y2":171.7,"dir":"up","style":"solid"},
{"x1":167.7,"y1":176.7,"x2":167.7,"y2":181.7,"dir":"down","style":"solid"},
{"x1":224.3,"y1":168.3,"x2":224.3,"y2":181,"dir":"down","style":"solid"},
{"x1":290,"y1":166,"x2":290,"y2":180,"dir":"down","style":"solid"},
{"x1":175,"y1":177.7,"x2":175,"y2":235,"dir":"none","style":"solid"},
{"x1":175,"y1":235,"x2":188.3,"y2":235,"dir":"right","style":"solid"},
{"x1":169.3,"y1":202.7,"x2":169.3,"y2":275,"dir":"none","style":"solid"},
{"x1":169.3,"y1":275,"x2":192.3,"y2":275,"dir":"right","style":"solid"},
{"x1":224.3,"y1":207,"x2":224.3,"y2":221,"dir":"down","style":"solid"},
{"x1":290,"y1":206,"x2":290,"y2":222.7,"dir":"down","style":"solid"},
{"x1":32.3,"y1":172,"x2":32.3,"y2":256,"dir":"down","style":"solid"},
{"x1":98.3,"y1":174,"x2":98.3,"y2":221,"dir":"down","style":"solid"},
{"x1":146.7,"y1":242.7,"x2":193.3,"y2":242.7,"dir":"right","style":"solid"},
{"x1":246,"y1":237.7,"x2":265,"y2":237.7,"dir":"right","style":"solid"},
{"x1":224.3,"y1":259,"x2":224.3,"y2":254.3,"dir":"up","style":"solid"},
{"x1":224.3,"y1":259,"x2":224.3,"y2":263.7,"dir":"down","style":"solid"},
{"x1":290,"y1":258.7,"x2":290,"y2":253.7,"dir":"up","style":"solid"},
{"x1":290,"y1":258.7,"x2":290,"y2":263.7,"dir":"down","style":"solid"},
{"x1":248.3,"y1":276,"x2":263.3,"y2":276,"dir":"right","style":"solid"},
{"x1":224.3,"y1":292,"x2":224.3,"y2":302.7,"dir":"down","style":"solid"},
{"x1":290,"y1":290.3,"x2":290,"y2":302.7,"dir":"down","style":"solid"},
{"x1":248.3,"y1":315,"x2":263.3,"y2":315,"dir":"right","style":"solid"},
{"x1":290,"y1":322.7,"x2":290,"y2":344.3,"dir":"down","style":"solid"}
],
"bGenes": [
{"label":"FACKEL","x":220,"y":10.3},{"label":"HYDRA1","x":291.7,"y":33.3},{"label":"DWF7","x":171,"y":44.7},{"label":"DWF5","x":75,"y":44.7},
{"label":"DWF1/","x":11.3,"y":73},{"label":"DIM","x":8.3,"y":81},{"label":"DET2","x":126.7,"y":97},
{"label":"DWF4","x":13.3,"y":123.7},{"label":"DWF11","x":14,"y":131.7},{"label":"DWF4","x":84.7,"y":123.7},{"label":"DWF11","x":84.8,"y":131.7},
{"label":"DWF4","x":154.5,"y":123.7},{"label":"DWF11","x":154.5,"y":131.7},{"label":"DWF4","x":209.5,"y":123.7},{"label":"DWF11","x":209.5,"y":131.7},
{"label":"DWF4","x":277.5,"y":123.7},{"label":"DWF11","x":277.5,"y":131.7},
{"label":"CPD","x":63.3,"y":151.7},{"label":"DET2","x":126.7,"y":152.7},
{"label":"ROT3","x":206,"y":171.7},{"label":"CYP90D1","x":205.5,"y":180.3},{"label":"ROT3","x":272.7,"y":171.7},{"label":"CYP90D1","x":272.5,"y":180.3},
{"label":"ROT3","x":16,"y":211},{"label":"CYP90D1","x":15.8,"y":218.3},{"label":"ROT3","x":78.3,"y":211},{"label":"CYP90D1","x":77.8,"y":218.3},
{"label":"ROT3","x":153.3,"y":211},{"label":"CYP90D1","x":153,"y":218.3},
{"label":"D2","x":209.7,"y":214.3},{"label":"D2","x":277.5,"y":214.3},
{"label":"BR6ox1","x":255.5,"y":246.3},{"label":"BR6ox2","x":255.5,"y":254.3},
{"label":"BR6ox1","x":255.5,"y":284.3},{"label":"BR6ox2","x":255.5,"y":292},
{"label":"BR6ox1","x":255.5,"y":323.7},{"label":"BR6ox2","x":255.5,"y":331.7},
{"label":"BR6ox2","x":276,"y":339.3}
],
"bLetter": [{"label":"B","x":-23.3,"y":-13.3}],
"dBg": [{"x1":0,"x2":224,"y1":0,"y2":388}],
"dNodes": [
{"label":"Bioactive BRs","x":111,"y":20},{"label":"BRI1, BAK1","x":111,"y":73},{"label":"BKI1","x":42,"y":124},
{"label":"BSK1, CDG1","x":111,"y":130},{"label":"BSU1","x":111,"y":185},{"label":"BIN2","x":111,"y":242},
{"label":"BZR1, BZR2","x":111,"y":298},{"label":"BR regulated growth and","x":111,"y":355},{"label":"developement","x":111,"y":368}
],
"dEdges": [
{"x1":111,"y1":30,"x2":111,"y2":62,"kind":"act"},
{"x1":111,"y1":84,"x2":111,"y2":116,"kind":"act"},
{"x1":111,"y1":141,"x2":111,"y2":169,"kind":"act"},
{"x1":111,"y1":309,"x2":111,"y2":339,"kind":"act"},
{"x1":107,"y1":84,"x2":42,"y2":97,"kind":"inh"},
{"x1":42,"y1":97,"x2":42,"y2":110.7,"kind":"inh"},
{"x1":111,"y1":196,"x2":111,"y2":227,"kind":"inh"},
{"x1":111,"y1":253,"x2":111,"y2":287,"kind":"inh"}
],
"dBars": [{"x1":36.5,"x2":47.5,"y":110.7},{"x1":105.5,"x2":116.5,"y":227},{"x1":105.5,"x2":116.5,"y":287}],
"dLetter": [{"label":"D","x":-22.3,"y":-5.7}]
},
"layer": [
{
"layer": [
{"data":{"name":"cellsA"},"transform":[{"filter":"isValid(datum.z)"}],"mark":{"type":"rect"},
 "encoding":{
  "x":{"field":"sample","type":"nominal","scale":{"domain":["tabri1-a.1bd","tabri1-a.2bd","tabri1-a.3bd","tabri1-bd","TaBRI1-NS"],"range":[94,272],"paddingInner":0,"paddingOuter":0}},
  "y":{"field":"row","type":"ordinal","scale":{"domain":[1,2,3,4,5,6,7,8,9,10,11,12,13,14,15,16,17,18,19,20,21,22,23,24,25,26,27,28,29,30,31,32,33,34,35,36,37,38,39,40,41,42],"range":[9.5,286],"paddingInner":0,"paddingOuter":0}},
  "color":{"field":"z","type":"quantitative","scale":{"domain":[-1.5,0,1.5],"range":["#1428d6","#ffffff","#ff0000"],"interpolate":"rgb","clamp":true},
   "legend":{"orient":"none","legendX":31,"legendY":2,"direction":"horizontal","gradientLength":23,"gradientThickness":8,"gradientStrokeWidth":0,"title":"Row Z-Score","titleOrient":"bottom","titleFontSize":3.5,"titleFontWeight":"normal","titleFont":"Lato","titlePadding":1,"titleAnchor":"middle","labelFontSize":3.5,"labelFont":"Lato","labelOffset":1,"values":[-1,0,1],"padding":0}}}},
{"data":{"name":"cellsA"},"transform":[{"filter":"!isValid(datum.z)"}],"mark":{"type":"rect","color":"#999999"},
 "encoding":{"x":{"field":"sample","type":"nominal"},"y":{"field":"row","type":"ordinal"}}},
{"data":{"values":[{}]},"mark":{"type":"text","text":"ND","fontWeight":"bold","fontSize":9,"font":"Liberation Sans","color":"#111"},
 "encoding":{"x":{"datum":"tabri1-a.3bd","type":"nominal"},"y":{"datum":26,"type":"ordinal"}}},
{"data":{"name":"cellsA"},"transform":[{"filter":"isValid(datum.sig)"}],"mark":{"type":"text","fontSize":7,"fontWeight":"bold","font":"Liberation Sans","dy":2},
 "encoding":{"x":{"field":"sample","type":"nominal"},"y":{"field":"row","type":"ordinal"},"text":{"field":"sig"},
  "color":{"condition":{"test":"datum.z < -1.0","value":"white"},"value":"black"}}},
{"data":{"name":"rowsA"},"mark":{"type":"text","fontSize":4.5,"fontStyle":"italic","xOffset":21.8,"color":"#111"},
 "encoding":{"x":{"datum":"TaBRI1-NS","type":"nominal"},"y":{"field":"row","type":"ordinal"},"text":{"field":"allele"}}},
{"data":{"name":"groupsA"},"mark":{"type":"rule","strokeWidth":1.3,"color":"#111","xOffset":30.8},
 "encoding":{"x":{"datum":"TaBRI1-NS","type":"nominal"},"y":{"field":"first","type":"ordinal"},"y2":{"field":"last"}}},
{"data":{"name":"groupsA"},"mark":{"type":"text","align":"left","baseline":"middle","fontSize":10.5,"fontWeight":"bold","fontStyle":"italic","xOffset":34.8,"color":"#111"},
 "encoding":{"x":{"datum":"TaBRI1-NS","type":"nominal"},"y":{"field":"mid","type":"ordinal"},"text":{"field":"gene"}}},
{"data":{"name":"samples"},"mark":{"type":"text","angle":270,"align":"left","baseline":"middle","fontSize":13,"fontWeight":"bold","fontStyle":"italic","yOffset":79.3,"color":"#111"},
 "encoding":{"x":{"field":"sample","type":"nominal"},"y":{"datum":42,"type":"ordinal"},"text":{"field":"sample"}}},
{"data":{"values":[{}]},"mark":{"type":"text","text":"Sterol pathway","angle":270,"align":"center","baseline":"middle","fontSize":10.5,"fontWeight":"bold","xOffset":-32.8,"yOffset":2,"color":"#111"},
 "encoding":{"x":{"datum":"tabri1-a.1bd","type":"nominal"},"y":{"datum":8,"type":"ordinal"}}},
{"data":{"values":[{}]},"mark":{"type":"text","text":"BR biosynthesis pathway","angle":270,"align":"center","baseline":"middle","fontSize":11,"xOffset":-32.8,"yOffset":-2,"color":"#111"},
 "encoding":{"x":{"datum":"tabri1-a.1bd","type":"nominal"},"y":{"datum":28,"type":"ordinal"}}},
{"data":{"values":[{}]},"mark":{"type":"rule","strokeDash":[7,4],"strokeWidth":1.3,"color":"#222","xOffset":-41.8,"x2Offset":61.8,"yOffset":3.29},
 "encoding":{"x":{"datum":"tabri1-a.1bd","type":"nominal"},"x2":{"datum":"TaBRI1-NS"},"y":{"datum":15,"type":"ordinal"}}},
{"data":{"values":[{}]},"mark":{"type":"text","text":"A","align":"left","baseline":"alphabetic","fontSize":18,"fontWeight":"bold","font":"Liberation Sans","xOffset":-110.8,"yOffset":4.2,"color":"#000"},
 "encoding":{"x":{"datum":"tabri1-a.1bd","type":"nominal"},"y":{"datum":1,"type":"ordinal"}}}
]
},
{
"layer": [
{"data":{"name":"cellsC"},"mark":{"type":"rect"},
 "encoding":{
  "x":{"field":"sample","type":"nominal","scale":{"domain":["tabri1-a.1bd","tabri1-a.2bd","tabri1-a.3bd","tabri1-bd","TaBRI1-NS"],"range":[443,624],"paddingInner":0,"paddingOuter":0}},
  "y":{"field":"row","type":"ordinal","scale":{"domain":[1,2,3,4,5,6,7,8,9,10,11,12,13,14,15,16,17,18,19,20,21,22,23,24,25,26,27,28,29,30,31,32,33,34],"range":[12,273],"paddingInner":0,"paddingOuter":0}},
  "color":{"field":"z","type":"quantitative","scale":{"domain":[-1.5,0,1.5],"range":["#1428d6","#ffffff","#ff0000"],"interpolate":"rgb","clamp":true},
   "legend":{"orient":"none","legendX":385,"legendY":3,"direction":"horizontal","gradientLength":24,"gradientThickness":9,"gradientStrokeWidth":0,"title":"Row Z-Score","titleOrient":"bottom","titleFontSize":3.5,"titleFontWeight":"normal","titleFont":"Lato","titlePadding":1,"titleAnchor":"middle","labelFontSize":3.5,"labelFont":"Lato","labelOffset":1,"values":[-1.5,0,1],"padding":0}}}},
{"data":{"name":"cellsC"},"transform":[{"filter":"isValid(datum.sig)"}],"mark":{"type":"text","fontSize":7,"fontWeight":"bold","font":"Liberation Sans","dy":2},
 "encoding":{"x":{"field":"sample","type":"nominal"},"y":{"field":"row","type":"ordinal"},"text":{"field":"sig"},
  "color":{"condition":{"test":"datum.z < -1.0","value":"white"},"value":"black"}}},
{"data":{"name":"rowsC"},"mark":{"type":"text","fontSize":4.5,"fontStyle":"italic","xOffset":22.1,"color":"#111"},
 "encoding":{"x":{"datum":"TaBRI1-NS","type":"nominal"},"y":{"field":"row","type":"ordinal"},"text":{"field":"allele"}}},
{"data":{"name":"groupsC"},"mark":{"type":"rule","strokeWidth":1.3,"color":"#111","xOffset":31.1},
 "encoding":{"x":{"datum":"TaBRI1-NS","type":"nominal"},"y":{"field":"first","type":"ordinal"},"y2":{"field":"last"}}},
{"data":{"name":"groupsC"},"transform":[{"filter":"datum.n == 3"}],"mark":{"type":"text","align":"left","baseline":"middle","fontSize":9.8,"fontWeight":"bold","fontStyle":"italic","xOffset":34.6,"color":"#111"},
 "encoding":{"x":{"datum":"TaBRI1-NS","type":"nominal"},"y":{"field":"mid","type":"ordinal"},"text":{"field":"gene"}}},
{"data":{"name":"groupsC"},"transform":[{"filter":"datum.n == 2"}],"mark":{"type":"text","align":"left","baseline":"middle","fontSize":9.8,"fontWeight":"bold","fontStyle":"italic","xOffset":34.6,"yOffset":3.84,"color":"#111"},
 "encoding":{"x":{"datum":"TaBRI1-NS","type":"nominal"},"y":{"field":"mid","type":"ordinal"},"text":{"field":"gene"}}},
{"data":{"name":"samples"},"mark":{"type":"text","angle":270,"align":"left","baseline":"middle","fontSize":13,"fontWeight":"bold","fontStyle":"italic","yOffset":92.8,"color":"#111"},
 "encoding":{"x":{"field":"sample","type":"nominal"},"y":{"datum":34,"type":"ordinal"},"text":{"field":"sample"}}},
{"data":{"values":[{}]},"mark":{"type":"text","text":"Wall components","angle":270,"align":"center","baseline":"middle","fontSize":11,"fontWeight":"bold","xOffset":-31.1,"yOffset":-2,"color":"#111"},
 "encoding":{"x":{"datum":"tabri1-a.1bd","type":"nominal"},"y":{"datum":6,"type":"ordinal"}}},
{"data":{"values":[{}]},"mark":{"type":"text","text":"Downstream signalling components","angle":270,"align":"center","baseline":"middle","fontSize":9,"xOffset":-30.1,"yOffset":2,"color":"#111"},
 "encoding":{"x":{"datum":"tabri1-a.1bd","type":"nominal"},"y":{"datum":23,"type":"ordinal"}}},
{"data":{"values":[{}]},"mark":{"type":"rule","strokeDash":[7,4],"strokeWidth":1.3,"color":"#222","xOffset":-39.1,"x2Offset":64.1,"yOffset":3.84},
 "encoding":{"x":{"datum":"tabri1-a.1bd","type":"nominal"},"x2":{"datum":"TaBRI1-NS"},"y":{"datum":12,"type":"ordinal"}}},
{"data":{"values":[{}]},"mark":{"type":"text","text":"C","align":"left","baseline":"alphabetic","fontSize":18,"fontWeight":"bold","font":"Liberation Sans","xOffset":-100.1,"yOffset":1.2,"color":"#000"},
 "encoding":{"x":{"datum":"tabri1-a.1bd","type":"nominal"},"y":{"datum":1,"type":"ordinal"}}}
]
},
{
"layer": [
{"data":{"name":"bBg"},"mark":{"type":"rect"},
 "encoding":{"x":{"field":"x1","type":"quantitative","scale":{"domain":[0,317],"range":[25,342],"nice":false,"zero":false}},"x2":{"field":"x2"},
  "y":{"field":"y1","type":"quantitative","scale":{"domain":[0,370],"range":[419,789],"nice":false,"zero":false}},"y2":{"field":"y2"},
  "color":{"field":"region","type":"nominal","scale":{"domain":["sterol","br"],"range":["#edf2f8","#fdeaf4"]},"legend":null}}},
{"data":{"name":"bEdges"},"transform":[{"filter":"datum.style == 'solid'"}],"mark":{"type":"rule","color":"#555","strokeWidth":0.6},
 "encoding":{"x":{"field":"x1","type":"quantitative","scale":{"domain":[0,317],"range":[25,342],"nice":false,"zero":false}},"x2":{"field":"x2"},
  "y":{"field":"y1","type":"quantitative","scale":{"domain":[0,370],"range":[419,789],"nice":false,"zero":false}},"y2":{"field":"y2"}}},
{"data":{"name":"bEdges"},"transform":[{"filter":"datum.style == 'dotted'"}],"mark":{"type":"rule","color":"#555","strokeWidth":0.7,"strokeDash":[1,1.5]},
 "encoding":{"x":{"field":"x1","type":"quantitative","scale":{"domain":[0,317],"range":[25,342],"nice":false,"zero":false}},"x2":{"field":"x2"},
  "y":{"field":"y1","type":"quantitative","scale":{"domain":[0,370],"range":[419,789],"nice":false,"zero":false}},"y2":{"field":"y2"}}},
{"data":{"name":"bEdges"},"transform":[{"filter":"datum.dir != 'none'"}],"mark":{"type":"point","filled":true,"size":6,"color":"#444","opacity":1},
 "encoding":{"x":{"field":"x2","type":"quantitative","scale":{"domain":[0,317],"range":[25,342],"nice":false,"zero":false}},
  "y":{"field":"y2","type":"quantitative","scale":{"domain":[0,370],"range":[419,789],"nice":false,"zero":false}},
  "shape":{"field":"dir","type":"nominal","scale":{"domain":["right","left","down","up"],"range":["triangle-right","triangle-left","triangle-down","triangle-up"]},"legend":null}}},
{"data":{"name":"bNodes"},"mark":{"type":"rect","fill":"white","stroke":"#777","strokeWidth":0.6,"cornerRadius":7},
 "encoding":{"x":{"field":"x1","type":"quantitative","scale":{"domain":[0,317],"range":[25,342],"nice":false,"zero":false}},"x2":{"field":"x2"},
  "y":{"field":"y1","type":"quantitative","scale":{"domain":[0,370],"range":[419,789],"nice":false,"zero":false}},"y2":{"field":"y2"}}},
{"data":{"name":"bNodes"},"mark":{"type":"text","font":"Roboto","fontSize":6,"lineHeight":7,"lineBreak":"\n","align":"center","baseline":"middle","color":"#222"},
 "encoding":{"x":{"field":"cx","type":"quantitative","scale":{"domain":[0,317],"range":[25,342],"nice":false,"zero":false}},
  "y":{"field":"cy","type":"quantitative","scale":{"domain":[0,370],"range":[419,789],"nice":false,"zero":false}},"text":{"field":"label"}}},
{"data":{"name":"bGenes"},"mark":{"type":"text","font":"Roboto","fontSize":6.5,"fontWeight":"bold","fontStyle":"italic","align":"center","baseline":"middle","color":"#3b7d80"},
 "encoding":{"x":{"field":"x","type":"quantitative","scale":{"domain":[0,317],"range":[25,342],"nice":false,"zero":false}},
  "y":{"field":"y","type":"quantitative","scale":{"domain":[0,370],"range":[419,789],"nice":false,"zero":false}},"text":{"field":"label"}}},
{"data":{"name":"bLetter"},"mark":{"type":"text","font":"Liberation Sans","fontSize":18,"fontWeight":"bold","align":"left","baseline":"alphabetic","color":"#000"},
 "encoding":{"x":{"field":"x","type":"quantitative","scale":{"domain":[0,317],"range":[25,342],"nice":false,"zero":false}},
  "y":{"field":"y","type":"quantitative","scale":{"domain":[0,370],"range":[419,789],"nice":false,"zero":false}},"text":{"field":"label"}}}
]
},
{
"layer": [
{"data":{"name":"dBg"},"mark":{"type":"rect","color":"#fcf6f5"},
 "encoding":{"x":{"field":"x1","type":"quantitative","scale":{"domain":[0,224],"range":[433,657],"nice":false,"zero":false}},"x2":{"field":"x2"},
  "y":{"field":"y1","type":"quantitative","scale":{"domain":[0,388],"range":[410,798],"nice":false,"zero":false}},"y2":{"field":"y2"}}},
{"data":{"name":"dEdges"},"mark":{"type":"rule","strokeWidth":1.4},
 "encoding":{"x":{"field":"x1","type":"quantitative","scale":{"domain":[0,224],"range":[433,657],"nice":false,"zero":false}},"x2":{"field":"x2"},
  "y":{"field":"y1","type":"quantitative","scale":{"domain":[0,388],"range":[410,798],"nice":false,"zero":false}},"y2":{"field":"y2"},
  "color":{"field":"kind","type":"nominal","scale":{"domain":["act","inh"],"range":["#3a9e2e","#e8202a"]},"legend":null}}},
{"data":{"name":"dBars"},"mark":{"type":"rule","strokeWidth":1.8,"color":"#e8202a"},
 "encoding":{"x":{"field":"x1","type":"quantitative","scale":{"domain":[0,224],"range":[433,657],"nice":false,"zero":false}},"x2":{"field":"x2"},
  "y":{"field":"y","type":"quantitative","scale":{"domain":[0,388],"range":[410,798],"nice":false,"zero":false}}}},
{"data":{"name":"dEdges"},"transform":[{"filter":"datum.kind == 'act'"}],"mark":{"type":"point","shape":"triangle-down","filled":true,"size":22,"color":"#3a9e2e","opacity":1},
 "encoding":{"x":{"field":"x2","type":"quantitative","scale":{"domain":[0,224],"range":[433,657],"nice":false,"zero":false}},
  "y":{"field":"y2","type":"quantitative","scale":{"domain":[0,388],"range":[410,798],"nice":false,"zero":false}}}},
{"data":{"name":"dNodes"},"mark":{"type":"text","font":"Roboto","fontSize":10,"fontWeight":"bold","align":"center","baseline":"middle","color":"#333"},
 "encoding":{"x":{"field":"x","type":"quantitative","scale":{"domain":[0,224],"range":[433,657],"nice":false,"zero":false}},
  "y":{"field":"y","type":"quantitative","scale":{"domain":[0,388],"range":[410,798],"nice":false,"zero":false}},"text":{"field":"label"}}},
{"data":{"name":"dLetter"},"mark":{"type":"text","font":"Liberation Sans","fontSize":18,"fontWeight":"bold","align":"left","baseline":"alphabetic","color":"#000"},
 "encoding":{"x":{"field":"x","type":"quantitative","scale":{"domain":[0,224],"range":[433,657],"nice":false,"zero":false}},
  "y":{"field":"y","type":"quantitative","scale":{"domain":[0,388],"range":[410,798],"nice":false,"zero":false}},"text":{"field":"label"}}}
]
}
],
"resolve": {"scale": {"x": "independent", "y": "independent", "color": "independent", "shape": "independent"}}
}
